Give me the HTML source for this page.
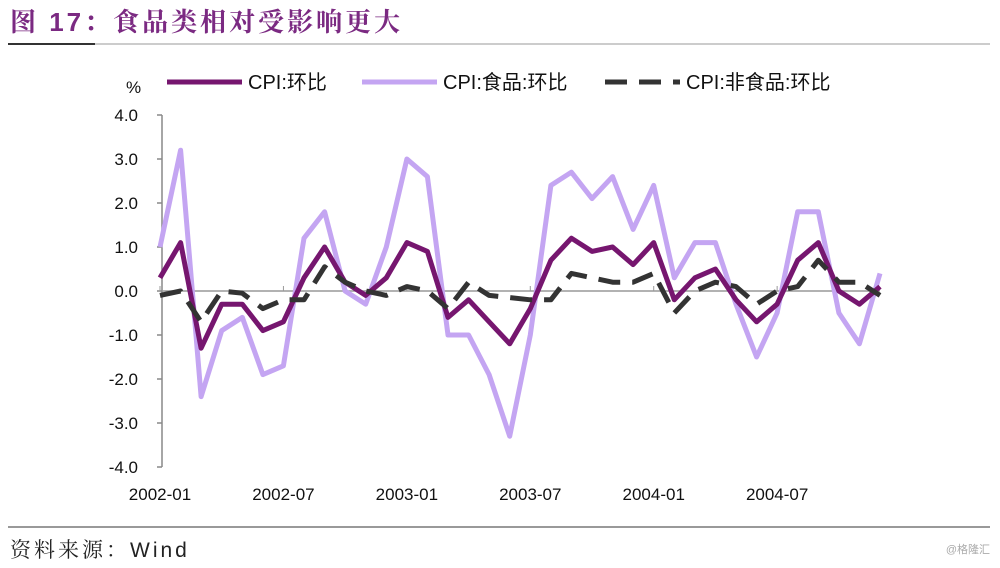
<!DOCTYPE html>
<html><head><meta charset="utf-8"><style>
body{margin:0;width:1000px;height:563px;background:#fff;overflow:hidden;font-family:"Liberation Sans","Noto Sans CJK SC",sans-serif}
</style></head><body>
<svg width="1000" height="563" xmlns="http://www.w3.org/2000/svg">
<text x="10" y="31" font-size="26" letter-spacing="3" font-weight="bold" fill="#7b2a82" font-family="'Liberation Sans','Noto Serif CJK SC',serif">图 17：食品类相对受影响更大</text>
<line x1="8" y1="44" x2="95" y2="44" stroke="#333" stroke-width="2"/>
<line x1="95" y1="44" x2="990" y2="44" stroke="#999" stroke-width="1"/>
<line x1="8" y1="527" x2="990" y2="527" stroke="#333" stroke-width="1"/>
<text x="10" y="557" font-size="21" letter-spacing="3" fill="#222" font-family="'Liberation Sans','Noto Serif CJK SC',serif">资料来源：Wind</text>
<text x="990" y="553" font-size="11" fill="#aaa" text-anchor="end">@格隆汇</text>
<text x="126" y="93" font-size="17" fill="#111">%</text>
<g>
<line x1="167" y1="82" x2="242" y2="82" stroke="#76166f" stroke-width="5"/>
<text x="248" y="89" font-size="20" fill="#111">CPI:环比</text>
<line x1="362" y1="82" x2="437" y2="82" stroke="#c4a5f2" stroke-width="5"/>
<text x="443" y="89" font-size="20" fill="#111">CPI:食品:环比</text>
<line x1="605" y1="82" x2="680" y2="82" stroke="#333" stroke-width="5" stroke-dasharray="22,12"/>
<text x="686" y="89" font-size="20" fill="#111">CPI:非食品:环比</text>
</g>
<g id="plot"></g>
</svg>
<script>
const months=["2002-01","2002-02","2002-03","2002-04","2002-05","2002-06","2002-07","2002-08","2002-09","2002-10","2002-11","2002-12","2003-01","2003-02","2003-03","2003-04","2003-05","2003-06","2003-07","2003-08","2003-09","2003-10","2003-11","2003-12","2004-01","2004-02","2004-03","2004-04","2004-05","2004-06","2004-07","2004-08","2004-09","2004-10","2004-11","2004-12"];
const cpi=[0.3,1.1,-1.3,-0.3,-0.3,-0.9,-0.7,0.3,1.0,0.2,-0.1,0.3,1.1,0.9,-0.6,-0.2,-0.7,-1.2,-0.4,0.7,1.2,0.9,1.0,0.6,1.1,-0.2,0.3,0.5,-0.2,-0.7,-0.3,0.7,1.1,0.0,-0.3,0.1];
const food=[1.0,3.2,-2.4,-0.9,-0.6,-1.9,-1.7,1.2,1.8,0.0,-0.3,1.0,3.0,2.6,-1.0,-1.0,-1.9,-3.3,-1.0,2.4,2.7,2.1,2.6,1.4,2.4,0.3,1.1,1.1,-0.3,-1.5,-0.5,1.8,1.8,-0.5,-1.2,0.4];
const nonfood=[-0.1,0.0,-0.7,0.0,-0.05,-0.4,-0.2,-0.2,0.55,0.2,0.0,-0.1,0.1,0.0,-0.4,0.2,-0.1,-0.15,-0.2,-0.2,0.4,0.3,0.2,0.2,0.4,-0.5,0.0,0.2,0.1,-0.3,0.0,0.1,0.7,0.2,0.2,-0.1];
const yTicks=[4,3,2,1,0,-1,-2,-3,-4];
const xTickIdx=[0,6,12,18,24,30];
const NS="http://www.w3.org/2000/svg";
const g=document.getElementById('plot');
const x=i=>160+i*(720/35);
const y=v=>291-v*44;
function mk(t,a){const e=document.createElementNS(NS,t);for(const k in a)e.setAttribute(k,a[k]);g.appendChild(e);return e;}
let ax=mk('line',{x1:162,y1:y(4),x2:162,y2:y(-4),stroke:'#888','stroke-width':1.5});


yTicks.forEach(v=>{
 let t=mk('line',{x1:157,y1:y(v),x2:162,y2:y(v),stroke:'#888','stroke-width':1.5});
 
 
 let l=mk('text',{x:138,y:y(v)+6,'font-size':17,'text-anchor':'end',fill:'#111'});
 l.textContent=v.toFixed(1);
 
 
});
let zl=mk('line',{x1:162,y1:y(0),x2:x(35),y2:y(0),stroke:'#999','stroke-width':1.5});


xTickIdx.forEach(i=>{
 let t=mk('line',{x1:x(i),y1:y(0),x2:x(i),y2:y(0)-5,stroke:'#999','stroke-width':1});
 
 
 let l=mk('text',{x:x(i),y:500,'font-size':17,'text-anchor':'middle',fill:'#111'});
 l.textContent=months[i];
 
 
});
function series(d,col,dash,name){
 const p=d.map((v,i)=>x(i).toFixed(1)+','+y(v).toFixed(1)).join(' ');
 const a={points:p,fill:'none',stroke:col,'stroke-width':5,'stroke-linejoin':'round'};
 if(dash)a['stroke-dasharray']=dash;
 const e=mk('polyline',a);
 
 
}
series(food,'#c4a5f2',null,'series-food-line');
series(cpi,'#76166f',null,'series-cpi-line');
series(nonfood,'#333',"22,12",'series-nonfood-line');
</script>
</body></html>
